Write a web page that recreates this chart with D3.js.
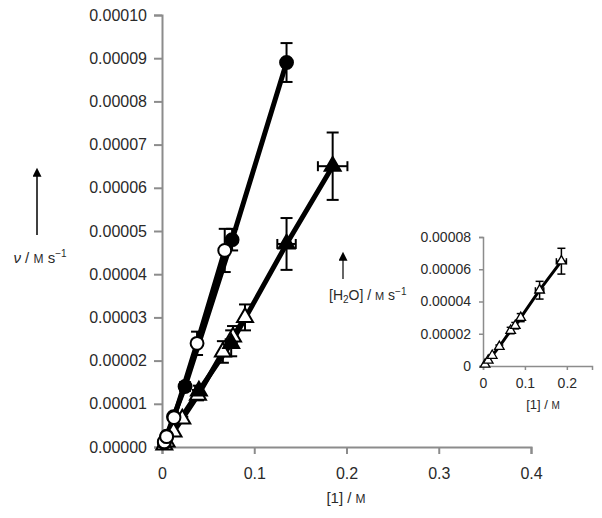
<!DOCTYPE html>
<html>
<head>
<meta charset="utf-8">
<script src="https://cdn.jsdelivr.net/npm/d3@7"></script>
<style>
  body { margin: 0; background: #fff; }
  svg { font-family: "Liberation Sans", Arial, sans-serif; }
</style>
</head>
<body>
<svg id="chart" width="602" height="518"></svg>
<script>
// main plot: rate v against [1]
var filledCircX   = [0.0025, 0.005, 0.0125, 0.025, 0.076, 0.135];
var filledCircY   = [1.0e-6, 2.5e-6, 7.0e-6, 1.4e-5, 4.8e-5, 8.9e-5];
var filledCircErr = [0, 0, 0, 1.0e-6, 2.5e-6, 4.5e-6];

var openCircX   = [0.0025, 0.005, 0.013, 0.038, 0.068];
var openCircY   = [1.2e-6, 2.4e-6, 6.8e-6, 2.4e-5, 4.55e-5];
var openCircErr = [0, 0, 0, 2.7e-6, 5.0e-6];

var openTriX   = [0.0025, 0.005, 0.0125, 0.022, 0.039, 0.066, 0.077, 0.09];
var openTriY   = [0.5e-6, 1.2e-6, 3.5e-6, 6.5e-6, 1.2e-5, 2.2e-5, 2.55e-5, 3.0e-5];
var openTriErr = [0, 0, 0, 0.5e-6, 1.2e-6, 2.5e-6, 2.5e-6, 3.0e-6];

var filledTriX    = [0.04, 0.075, 0.135, 0.185];
var filledTriY    = [1.3e-5, 2.4e-5, 4.7e-5, 6.5e-5];
var filledTriErr  = [1.2e-6, 3.0e-6, 6.0e-6, 7.8e-6];
var filledTriXErr = [0.004, 0.006, 0.01, 0.016];

var mainXTicks = [0, 0.1, 0.2, 0.3, 0.4];
var mainYTicks = [0, 0.00001, 0.00002, 0.00003, 0.00004, 0.00005,
                  0.00006, 0.00007, 0.00008, 0.00009, 0.0001];

// inset: [H2O] against [1]
var insetX    = [0.005, 0.0125, 0.022, 0.039, 0.066, 0.077, 0.09, 0.135, 0.187];
var insetY    = [1.0e-6, 3.5e-6, 6.5e-6, 1.2e-5, 2.2e-5, 2.5e-5, 3.0e-5, 4.7e-5, 6.5e-5];
var insetYErr = [0, 0, 0, 1.0e-6, 2.0e-6, 2.0e-6, 2.5e-6, 5.5e-6, 8.0e-6];
var insetXErr = [0, 0, 0, 0, 0.003, 0.003, 0.004, 0.01, 0.012];
var insetXTicks = [0, 0.1, 0.2];
var insetYTicks = [0, 0.00002, 0.00004, 0.00006, 0.00008];

var svg = d3.select("#chart");
var axisCol = "#8c8c8c", textCol = "#2a2a2a";

function zip(xs, ys) { return xs.map(function(x, i){ return [x, ys[i]]; }); }

function style_axis(g, fs) {
	g.select(".domain").attr("stroke", axisCol).attr("stroke-width", 2);
	g.selectAll(".tick line").attr("stroke", axisCol).attr("stroke-width", 2);
	g.selectAll(".tick text").attr("fill", textCol).attr("font-size", fs)
		.attr("font-family", "Liberation Sans, Arial, sans-serif");
}

// ---------- main plot ----------
var x = d3.scaleLinear().domain([0, 0.4]).range([162, 531]);
var y = d3.scaleLinear().domain([0, 0.0001]).range([447, 15]);

svg.append("g")
	.attr("transform", "translate(0,447)")
	.call(d3.axisBottom(x).tickValues(mainXTicks).tickSize(7).tickPadding(14)
		.tickFormat(function(d){ return d === 0 ? "0" : d3.format(".1f")(d); }))
	.call(style_axis, 16);

svg.append("g")
	.attr("transform", "translate(162,0)")
	.call(d3.axisLeft(y).tickValues(mainYTicks).tickSize(8).tickPadding(7)
		.tickFormat(d3.format(".5f")))
	.call(style_axis, 16);

var line = d3.line().x(function(d){ return x(d[0]); }).y(function(d){ return y(d[1]); });

var lines = [zip(filledCircX, filledCircY), zip(openCircX, openCircY),
             zip(openTriX, openTriY), zip(filledTriX, filledTriY)];
lines.forEach(function(pts){
	svg.append("path").datum([[0, 0]].concat(pts))
		.attr("d", line).attr("fill", "none")
		.attr("stroke", "#000").attr("stroke-width", 5)
		.attr("stroke-linejoin", "round").attr("stroke-linecap", "round");
});

function err_y(g, sx, sy, xs, ys, es, cap) {
	xs.forEach(function(xv, i){
		if (!es[i]) return;
		var cx = sx(xv), y0 = sy(ys[i] - es[i]), y1 = sy(ys[i] + es[i]);
		g.append("line").attr("x1", cx).attr("x2", cx).attr("y1", y0).attr("y2", y1);
		g.append("line").attr("x1", cx - cap).attr("x2", cx + cap).attr("y1", y0).attr("y2", y0);
		g.append("line").attr("x1", cx - cap).attr("x2", cx + cap).attr("y1", y1).attr("y2", y1);
	});
}
function err_x(g, sx, sy, xs, ys, es, cap) {
	xs.forEach(function(xv, i){
		if (!es[i]) return;
		var cy = sy(ys[i]), x0 = sx(xv - es[i]), x1 = sx(xv + es[i]);
		g.append("line").attr("x1", x0).attr("x2", x1).attr("y1", cy).attr("y2", cy);
		g.append("line").attr("x1", x0).attr("x2", x0).attr("y1", cy - cap).attr("y2", cy + cap);
		g.append("line").attr("x1", x1).attr("x2", x1).attr("y1", cy - cap).attr("y2", cy + cap);
	});
}

var eb = svg.append("g").attr("stroke", "#000").attr("stroke-width", 2);
err_y(eb, x, y, filledCircX, filledCircY, filledCircErr, 6);
err_y(eb, x, y, openCircX, openCircY, openCircErr, 6);
err_y(eb, x, y, openTriX, openTriY, openTriErr, 6);
err_y(eb, x, y, filledTriX, filledTriY, filledTriErr, 6);
err_x(eb, x, y, filledTriX, filledTriY, filledTriXErr, 5);

function markers(g, sx, sy, xs, ys, type, size, fill, sw) {
	g.selectAll(null).data(zip(xs, ys)).enter().append("path")
		.attr("transform", function(d){ return "translate(" + sx(d[0]) + "," + sy(d[1]) + ")"; })
		.attr("d", d3.symbol().type(type).size(size))
		.attr("fill", fill).attr("stroke", "#000").attr("stroke-width", sw);
}
var mk = svg.append("g");
markers(mk, x, y, openTriX, openTriY, d3.symbolTriangle, 110, "#fff", 2);
markers(mk, x, y, filledTriX, filledTriY, d3.symbolTriangle, 110, "#000", 2);
markers(mk, x, y, filledCircX, filledCircY, d3.symbolCircle, 130, "#000", 2);
markers(mk, x, y, openCircX, openCircY, d3.symbolCircle, 130, "#fff", 2);

// axis titles
svg.append("text").attr("x", 346).attr("y", 503).attr("text-anchor", "middle")
	.attr("fill", textCol).attr("font-size", 15)
	.call(function(t){
		t.append("tspan").text("[1] / ");
		t.append("tspan").attr("font-size", 12).text("M");
	});

svg.append("defs").append("marker").attr("id", "ah")
	.attr("viewBox", "0 0 10 10").attr("refX", 2).attr("refY", 5)
	.attr("markerWidth", 12).attr("markerHeight", 9).attr("markerUnits", "userSpaceOnUse")
	.attr("orient", "auto")
	.append("path").attr("d", "M0,0 L10,5 L0,10 Z").attr("fill", "#000");

svg.append("line").attr("x1", 37).attr("x2", 37).attr("y1", 235).attr("y2", 175)
	.attr("stroke", "#000").attr("stroke-width", 1.5).attr("marker-end", "url(#ah)");
svg.append("text").attr("x", 40).attr("y", 263).attr("text-anchor", "middle")
	.attr("fill", textCol).attr("font-size", 15)
	.call(function(t){
		t.append("tspan").attr("font-style", "italic").text("ν");
		t.append("tspan").text(" / ");
		t.append("tspan").attr("font-size", 12).text("M");
		t.append("tspan").text(" s");
		t.append("tspan").attr("font-size", 10).attr("dy", -6).text("−1");
	});

// ---------- inset ----------
var ix = d3.scaleLinear().domain([0, 0.26]).range([483, 592]);
var iy = d3.scaleLinear().domain([0, 0.00008]).range([366, 237]);

svg.append("g")
	.attr("transform", "translate(0,366)")
	.call(d3.axisBottom(ix).tickValues(insetXTicks).tickSize(4).tickPadding(8)
		.tickFormat(function(d){ return d === 0 ? "0" : d3.format(".1f")(d); }))
	.call(style_axis, 14)
	.call(function(g){ g.selectAll(".domain, .tick line").attr("stroke-width", 1.5); });

svg.append("g")
	.attr("transform", "translate(483,0)")
	.call(d3.axisLeft(iy).tickValues(insetYTicks).tickSize(4).tickPadding(8)
		.tickFormat(function(d){ return d === 0 ? "0" : d3.format(".5f")(d); }))
	.call(style_axis, 14)
	.call(function(g){ g.selectAll(".domain, .tick line").attr("stroke-width", 1.5); });

var iline = d3.line().x(function(d){ return ix(d[0]); }).y(function(d){ return iy(d[1]); });
svg.append("path").datum([[0, 0]].concat(zip(insetX, insetY)))
	.attr("d", iline).attr("fill", "none").attr("stroke", "#000").attr("stroke-width", 3);

var ieb = svg.append("g").attr("stroke", "#000").attr("stroke-width", 1.5);
err_y(ieb, ix, iy, insetX, insetY, insetYErr, 4);
err_x(ieb, ix, iy, insetX, insetY, insetXErr, 3);
markers(svg.append("g"), ix, iy, insetX, insetY, d3.symbolTriangle, 40, "#fff", 1.3);

svg.append("text").attr("x", 543).attr("y", 409).attr("text-anchor", "middle")
	.attr("fill", textCol).attr("font-size", 13)
	.call(function(t){
		t.append("tspan").text("[1] / ");
		t.append("tspan").attr("font-size", 10).text("M");
	});

svg.append("line").attr("x1", 343).attr("x2", 343).attr("y1", 279).attr("y2", 259)
	.attr("stroke", "#000").attr("stroke-width", 1.2).attr("marker-end", "url(#ah)");
svg.append("text").attr("x", 329).attr("y", 300).attr("text-anchor", "start")
	.attr("fill", textCol).attr("font-size", 14)
	.call(function(t){
		t.append("tspan").text("[H");
		t.append("tspan").attr("font-size", 10).attr("dy", 3).text("2");
		t.append("tspan").attr("dy", -3).text("O] / ");
		t.append("tspan").attr("font-size", 11).text("M");
		t.append("tspan").text(" s");
		t.append("tspan").attr("font-size", 10).attr("dy", -5).text("−1");
	});
</script>
</body>
</html>
